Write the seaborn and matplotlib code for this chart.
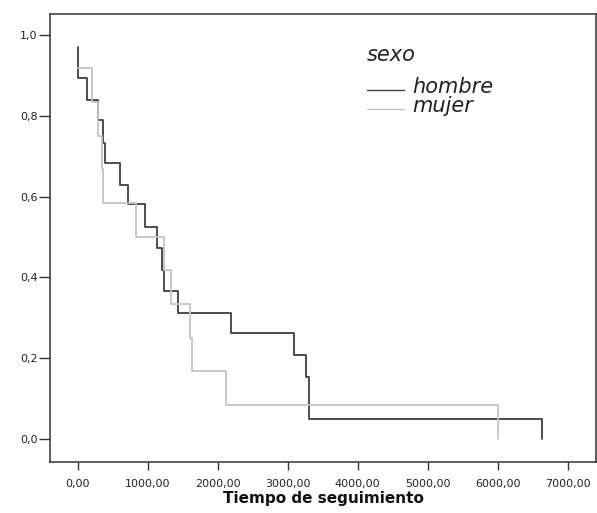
import matplotlib
matplotlib.use("Agg")
import matplotlib.pyplot as plt
import seaborn as sns
import pandas as pd

# Kaplan-Meier step curves by sex (time in days, cumulative survival)
hombre_tiempo = [0, 5, 140, 289, 369, 393, 607, 728, 964, 1131, 1203, 1240,
                 1431, 2193, 3097, 3260, 3311, 6640]
hombre_superv = [0.970, 0.893, 0.839, 0.790, 0.732, 0.684, 0.629, 0.582,
                 0.524, 0.472, 0.418, 0.367, 0.311, 0.263, 0.208, 0.154,
                 0.050, 0.0]

mujer_tiempo = [0, 203, 289, 354, 369, 831, 1236, 1331, 1607, 1640, 2121, 6000]
mujer_superv = [0.917, 0.833, 0.750, 0.667, 0.583, 0.500, 0.417, 0.333,
                0.250, 0.167, 0.083, 0.0]

grupos = ["hombre", "mujer"]
colores = ["#3f3f3f", "#c4c4c4"]

x_ticks = [0, 1000, 2000, 3000, 4000, 5000, 6000, 7000]
x_labels = ["0,00", "1000,00", "2000,00", "3000,00", "4000,00", "5000,00",
            "6000,00", "7000,00"]
y_ticks = [0.0, 0.2, 0.4, 0.6, 0.8, 1.0]
y_labels = ["0,0", "0,2", "0,4", "0,6", "0,8", "1,0"]

df = pd.concat([
    pd.DataFrame({"tiempo": hombre_tiempo, "superv": hombre_superv, "sexo": "hombre"}),
    pd.DataFrame({"tiempo": mujer_tiempo, "superv": mujer_superv, "sexo": "mujer"}),
], ignore_index=True)

sns.set_style("ticks")
plt.rcParams["font.family"] = ["DejaVu Sans"]

fig = plt.figure(figsize=(5.97, 5.13), dpi=100)
ax = fig.add_axes([50 / 597, 51 / 513, 546 / 597, 448.5 / 513])

sns.lineplot(data=df, x="tiempo", y="superv", hue="sexo", hue_order=grupos,
             palette=colores, drawstyle="steps-post", estimator=None,
             sort=False, linewidth=1.3, ax=ax)

ax.set_xlim(-393, 7407)
ax.set_ylim(-0.057, 1.053)
ax.set_xticks(x_ticks, x_labels, fontsize=8, color="#222222")
ax.set_yticks(y_ticks, y_labels, fontsize=8, color="#222222")
ax.tick_params(axis="x", length=6, width=1, color="#333333", pad=6.5)
ax.tick_params(axis="y", length=8, width=1, color="#333333", pad=1)
for s in ax.spines.values():
    s.set_color("#333333")
    s.set_linewidth(1.1)

ax.set_xlabel("Tiempo de seguimiento", fontsize=11, fontweight="bold",
              labelpad=1, color="#111111")
ax.set_ylabel("")

leg = ax.legend(title="sexo", loc="upper left",
                bbox_to_anchor=(0.5806, 0.9307), frameon=False,
                handlelength=1.78, handletextpad=0.39, labelspacing=-0.053,
                borderpad=0, borderaxespad=0,
                prop={"style": "italic", "size": 15})
leg.get_title().set_fontstyle("italic")
leg.get_title().set_fontsize(15)
leg.get_title().set_color("#222222")
for t in leg.get_texts():
    t.set_color("#222222")
leg._legend_box.align = "left"
leg._legend_box.sep = 9.2
# sit the legend keys a little lower, close to the text baseline
for line in leg.get_lines():
    line.set_linewidth(1.0)
    line.set_ydata(line.get_ydata() - 3)

fig.savefig("out.png", dpi=100, facecolor="white")
